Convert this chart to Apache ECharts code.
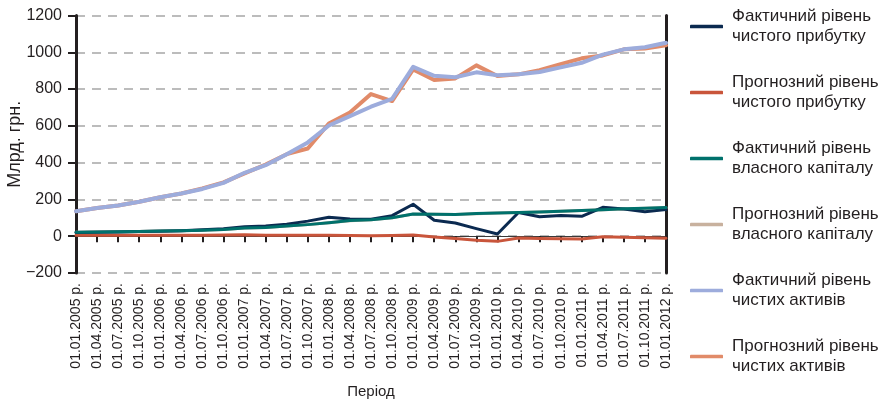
<!DOCTYPE html>
<html>
<head>
<meta charset="utf-8">
<script src="https://cdn.jsdelivr.net/npm/echarts@6/dist/echarts.min.js"></script>
<style>
  html, body { margin: 0; padding: 0; background: #fff; }
  #chart { width: 879px; height: 403px; }
</style>
</head>
<body>
<div id="chart"></div>
<script>
// Quarterly periods
const periods = [
  '01.01.2005 р.', '01.04.2005 р.', '01.07.2005 р.', '01.10.2005 р.',
  '01.01.2006 р.', '01.04.2006 р.', '01.07.2006 р.', '01.10.2006 р.',
  '01.01.2007 р.', '01.04.2007 р.', '01.07.2007 р.', '01.10.2007 р.',
  '01.01.2008 р.', '01.04.2008 р.', '01.07.2008 р.', '01.10.2008 р.',
  '01.01.2009 р.', '01.04.2009 р.', '01.07.2009 р.', '01.10.2009 р.',
  '01.01.2010 р.', '01.04.2010 р.', '01.07.2010 р.', '01.10.2010 р.',
  '01.01.2011 р.', '01.04.2011 р.', '01.07.2011 р.', '01.10.2011 р.',
  '01.01.2012 р.'
];

// Values, bn UAH
const profitActual = [20, 22, 23, 25, 27, 30, 35, 40, 52, 55, 65, 82, 103, 93, 92, 112, 174, 87, 72, 41, 12, 129, 106, 112, 108, 157, 148, 133, 145];
const profitForecast = [5, 5, 5, 5, 5, 5, 5, 6, 8, 5, 5, 5, 5, 4, 3, 4, 6, -4, -13, -22, -28, -10, -13, -14, -15, -3, -5, -8, -11];
const equityActual = [22, 23, 24, 26, 28, 30, 33, 37, 45, 48, 55, 63, 73, 85, 90, 100, 121, 119, 118, 123, 126, 129, 132, 136, 140, 144, 149, 152, 156];
const equityForecast = [21, 23, 24, 26, 28, 30, 33, 37, 44, 48, 55, 63, 73, 84, 90, 100, 120, 119, 118, 122, 126, 129, 132, 136, 140, 144, 148, 152, 155];
const assetsActual = [136, 153, 167, 187, 212, 232, 257, 290, 345, 386, 446, 510, 602, 653, 704, 747, 921, 872, 864, 891, 875, 880, 893, 918, 943, 987, 1016, 1027, 1052];
const assetsForecast = [136, 153, 167, 187, 212, 232, 260, 293, 342, 390, 446, 477, 613, 673, 773, 735, 907, 849, 858, 929, 871, 880, 903, 936, 967, 983, 1016, 1020, 1038];

const names = {
  profitActual: 'Фактичний рівень\nчистого прибутку',
  profitForecast: 'Прогнозний рівень\nчистого прибутку',
  equityActual: 'Фактичний рівень\nвласного капіталу',
  equityForecast: 'Прогнозний рівень\nвласного капіталу',
  assetsActual: 'Фактичний рівень\nчистих активів',
  assetsForecast: 'Прогнозний рівень\nчистих активів'
};

const colors = {
  profitActual: '#0b2a50',
  profitForecast: '#c9553b',
  equityActual: '#00716c',
  equityForecast: '#c8b19e',
  assetsActual: '#9dacdc',
  assetsForecast: '#e18b69'
};

const textColor = '#231f20';
const font = 'Liberation Sans, Arial, sans-serif';

function line(key, data, width) {
  return {
    name: names[key],
    type: 'line',
    data: data,
    xAxisIndex: 0,
    yAxisIndex: 0,
    symbol: 'none',
    showSymbol: false,
    color: colors[key],
    lineStyle: { color: colors[key], width: width, cap: 'round', join: 'round' }
  };
}

const chart = echarts.init(document.getElementById('chart'), null, { renderer: 'canvas' });

chart.setOption({
  animation: false,
  backgroundColor: '#ffffff',
  textStyle: { fontFamily: font },
  grid: { left: 76, right: 213, top: 15.5, bottom: 130, containLabel: false, outerBoundsMode: 'none' },
  legend: {
    orient: 'vertical',
    left: 690,
    top: 6,
    padding: 0,
    itemGap: 25,
    itemWidth: 33,
    itemHeight: 3.5,
    icon: 'roundRect',
    data: [names.profitActual, names.profitForecast, names.equityActual,
           names.equityForecast, names.assetsActual, names.assetsForecast],
    textStyle: { fontSize: 17, color: textColor, lineHeight: 20.5, fontFamily: font, padding: [0, 0, 0, 4] }
  },
  xAxis: [
    {
      // zero line with a tick at every quarter
      type: 'category',
      data: periods,
      boundaryGap: false,
      position: 'bottom',
      axisLine: { show: true, onZero: true, onZeroAxisIndex: 0, lineStyle: { color: '#3a3a3a', width: 1 } },
      axisTick: { show: true, interval: 0, length: 6, lineStyle: { color: '#231f20', width: 2 } },
      axisLabel: { show: false, interval: 0 },
      splitLine: { show: false }
    },
    {
      // period labels along the bottom
      type: 'category',
      data: periods,
      boundaryGap: false,
      position: 'bottom',
      axisLine: { show: false, onZero: false },
      axisTick: { show: false },
      axisLabel: {
        rotate: 90,
        margin: 10,
        interval: 0,
        fontSize: 14,
        color: textColor,
        fontFamily: font
      },
      splitLine: { show: false },
      name: 'Період',
      nameLocation: 'middle',
      nameGap: 111,
      nameMoveOverlap: false,
      nameTextStyle: { fontSize: 15, color: textColor, fontFamily: font }
    }
  ],
  yAxis: [
    {
      type: 'value',
      min: -200,
      max: 1200,
      interval: 200,
      position: 'left',
      axisLine: { show: true, onZero: false, lineStyle: { color: '#231f20', width: 3 } },
      axisTick: { show: true, length: 8, lineStyle: { color: '#231f20', width: 2 } },
      axisLabel: {
        margin: 14,
        fontSize: 16,
        color: textColor,
        fontFamily: font,
        formatter: function (v) { return v < 0 ? '\u2212' + Math.abs(v) : String(v); }
      },
      splitLine: { show: true, lineStyle: { color: '#a6a6a6', width: 1.5, type: [9, 7] } },
      name: 'Млрд. грн.',
      nameLocation: 'middle',
      nameGap: 52,
      nameRotate: 90,
      nameMoveOverlap: false,
      nameTextStyle: { fontSize: 18, color: textColor, fontFamily: font }
    },
    {
      type: 'value',
      min: -200,
      max: 1200,
      interval: 200,
      position: 'right',
      axisLine: { show: true, onZero: false, lineStyle: { color: '#231f20', width: 3 } },
      axisTick: { show: false },
      axisLabel: { show: false },
      splitLine: { show: false }
    }
  ],
  series: [
    line('equityForecast', equityForecast, 3),
    line('assetsForecast', assetsForecast, 4),
    line('assetsActual', assetsActual, 4),
    line('profitForecast', profitForecast, 3),
    line('profitActual', profitActual, 3),
    line('equityActual', equityActual, 3)
  ]
});
</script>
</body>
</html>
